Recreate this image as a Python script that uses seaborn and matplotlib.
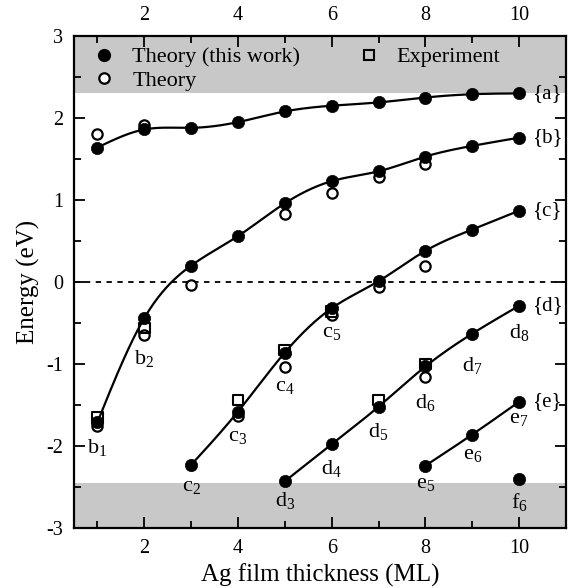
import numpy as np
import pandas as pd
import matplotlib
matplotlib.use("Agg")
import matplotlib.pyplot as plt
from matplotlib.lines import Line2D
from matplotlib.ticker import MultipleLocator
import seaborn as sns

# ---------------- data ----------------
# theory (this work), filled circles, one list per band
xa = [1, 2, 3, 4, 5, 6, 7, 8, 9, 10]
ya = [1.64, 1.86, 1.88, 1.95, 2.08, 2.15, 2.19, 2.25, 2.29, 2.30]
xb = [1, 2, 3, 4, 5, 6, 7, 8, 9, 10]
yb = [-1.71, -0.44, 0.20, 0.56, 0.96, 1.23, 1.35, 1.53, 1.66, 1.76]
xc = [3, 4, 5, 6, 7, 8, 9, 10]
yc = [-2.23, -1.58, -0.86, -0.32, 0.01, 0.38, 0.64, 0.87]
xd = [5, 6, 7, 8, 9, 10]
yd = [-2.43, -1.98, -1.52, -1.03, -0.63, -0.29]
xe = [8, 9, 10]
ye = [-2.24, -1.86, -1.46]
xf = [10]
yf = [-2.40]

# other theory (open circles)
x_theory = [1, 2, 1, 2, 3, 5, 6, 7, 8, 4, 5, 6, 7, 8, 8]
y_theory = [1.81, 1.92, -1.76, -0.65, -0.04, 0.83, 1.09, 1.28, 1.44,
            -1.64, -1.04, -0.40, -0.06, 0.20, -1.16]

# experiment (open squares)
x_exp = [1, 2, 4, 5, 6, 7, 8]
y_exp = [-1.65, -0.56, -1.44, -0.83, -0.36, -1.44, -1.00]

# state labels
state_names = ["b_1", "b_2", "c_2", "c_3", "c_4", "c_5", "d_3", "d_4", "d_5",
               "d_6", "d_7", "d_8", "e_5", "e_6", "e_7", "f_6"]
state_x = [1, 2, 3, 4, 5, 6, 5, 6, 7, 8, 9, 10, 8, 9, 10, 10]
state_y = [-2.02, -0.93, -2.49, -1.88, -1.27, -0.62, -2.66, -2.28, -1.82,
           -1.47, -1.02, -0.62, -2.46, -2.10, -1.66, -2.68]

band_names = ["{a}", "{b}", "{c}", "{d}", "{e}"]

# gray regions
top_band = (2.3, 3.0)
bottom_band = (-3.0, -2.45)

# ---------------- style ----------------
sns.set_theme(style="ticks")
plt.rcParams["font.family"] = ["Liberation Serif", "DejaVu Serif"]
plt.rcParams["mathtext.fontset"] = "custom"
plt.rcParams["mathtext.rm"] = "Liberation Serif"
plt.rcParams["mathtext.it"] = "Liberation Serif:italic"
plt.rcParams["axes.unicode_minus"] = False
for key in ["text.color", "axes.labelcolor", "xtick.color", "ytick.color",
            "xtick.labelcolor", "ytick.labelcolor", "axes.edgecolor"]:
    plt.rcParams[key] = "black"


def natural_spline(x, y, n=300):
    x = np.asarray(x, float)
    y = np.asarray(y, float)
    m = len(x)
    if m < 3:
        return x, y
    h = np.diff(x)
    A = np.zeros((m, m))
    r = np.zeros(m)
    A[0, 0] = 1
    A[-1, -1] = 1
    for i in range(1, m - 1):
        A[i, i - 1] = h[i - 1]
        A[i, i] = 2 * (h[i - 1] + h[i])
        A[i, i + 1] = h[i]
        r[i] = 6 * ((y[i + 1] - y[i]) / h[i] - (y[i] - y[i - 1]) / h[i - 1])
    M = np.linalg.solve(A, r)
    xs = np.linspace(x[0], x[-1], n)
    idx = np.clip(np.searchsorted(x, xs) - 1, 0, m - 2)
    x0, x1 = x[idx], x[idx + 1]
    hh = x1 - x0
    t0 = x1 - xs
    t1 = xs - x0
    ys = (M[idx] * t0 ** 3 / (6 * hh) + M[idx + 1] * t1 ** 3 / (6 * hh)
          + (y[idx] / hh - M[idx] * hh / 6) * t0
          + (y[idx + 1] / hh - M[idx + 1] * hh / 6) * t1)
    return xs, ys


fig = plt.figure(figsize=(5.74, 5.88), dpi=100)
ax = fig.add_axes([74 / 574, 60 / 588, 492 / 574, 492 / 588])

ax.axhspan(*top_band, color="#c8c8c8", lw=0, zorder=0)
ax.axhspan(*bottom_band, color="#c8c8c8", lw=0, zorder=0)
ax.axhline(0, color="black", lw=1.3, ls=(0, (3, 3)), zorder=1)

series = [(xa, ya), (xb, yb), (xc, yc), (xd, yd), (xe, ye)]
for xs_, ys_ in series:
    sx, sy = natural_spline(xs_, ys_)
    sns.lineplot(x=sx, y=sy, ax=ax, color="black", lw=1.6, sort=False,
                 estimator=None, zorder=2)

sns.scatterplot(x=x_theory, y=y_theory, ax=ax, marker="o", s=55,
                facecolor="white", edgecolor="black", linewidth=1.6, zorder=3)

all_x = xa + xb + xc + xd + xe + xf
all_y = ya + yb + yc + yd + ye + yf
sns.scatterplot(x=all_x, y=all_y, ax=ax, marker="o", s=78,
                color="black", edgecolor="black", linewidth=0.5, zorder=4)

sns.scatterplot(x=x_exp, y=y_exp, ax=ax, marker="s", s=60,
                facecolor="none", edgecolor="black", linewidth=1.5, zorder=5)

for name, sx, sy in zip(state_names, state_x, state_y):
    a, b = name.split("_")
    ax.text(sx, sy, r"$\mathrm{%s}_{%s}$" % (a, b), ha="center", va="center",
            fontsize=16, color="black", zorder=6)

for name, (xs_, ys_) in zip(band_names, series):
    ax.text(10.27, ys_[-1], name, ha="left", va="center", fontsize=15,
            color="black", zorder=6, clip_on=True)

ax.set_xlim(0.5, 11)
ax.set_ylim(-3, 3)
ax.xaxis.set_major_locator(MultipleLocator(2))
ax.xaxis.set_minor_locator(MultipleLocator(1))
ax.yaxis.set_major_locator(MultipleLocator(1))
ax.yaxis.set_minor_locator(MultipleLocator(0.5))
ax.tick_params(which="both", direction="in", top=True, right=True,
               labeltop=True, color="black", labelcolor="black", width=1.3)
ax.tick_params(which="major", length=8, labelsize=14.5, pad=8)
ax.tick_params(which="minor", length=5)
for sp in ax.spines.values():
    sp.set_linewidth(1.6)
    sp.set_color("black")

ax.set_xlabel("Ag film thickness (ML)", fontsize=18, color="black")
ax.set_ylabel("Energy (eV)", fontsize=18, color="black")
ax.xaxis.set_label_coords(0.5, -0.072)
ax.yaxis.set_label_coords(-0.07, 0.5)

handles = [
    Line2D([], [], marker="o", ls="none", color="black", markersize=8.5),
    Line2D([], [], marker="o", ls="none", markerfacecolor="white",
           markeredgecolor="black", markeredgewidth=1.6, markersize=7.5),
    Line2D([], [], marker="s", ls="none", markerfacecolor="none",
           markeredgecolor="black", markeredgewidth=1.5, markersize=7.5),
]
labels = ["Theory (this work)", "Theory", "Experiment"]
leg = ax.legend(handles, labels, loc="upper left", bbox_to_anchor=(0.039, 0.978),
                ncol=2, frameon=False, fontsize=16, handlelength=1.0,
                handletextpad=0.75, labelspacing=0.15, columnspacing=2.6,
                borderpad=0, borderaxespad=0)
for t in leg.get_texts():
    t.set_color("black")

fig.savefig("out.png", dpi=100)
